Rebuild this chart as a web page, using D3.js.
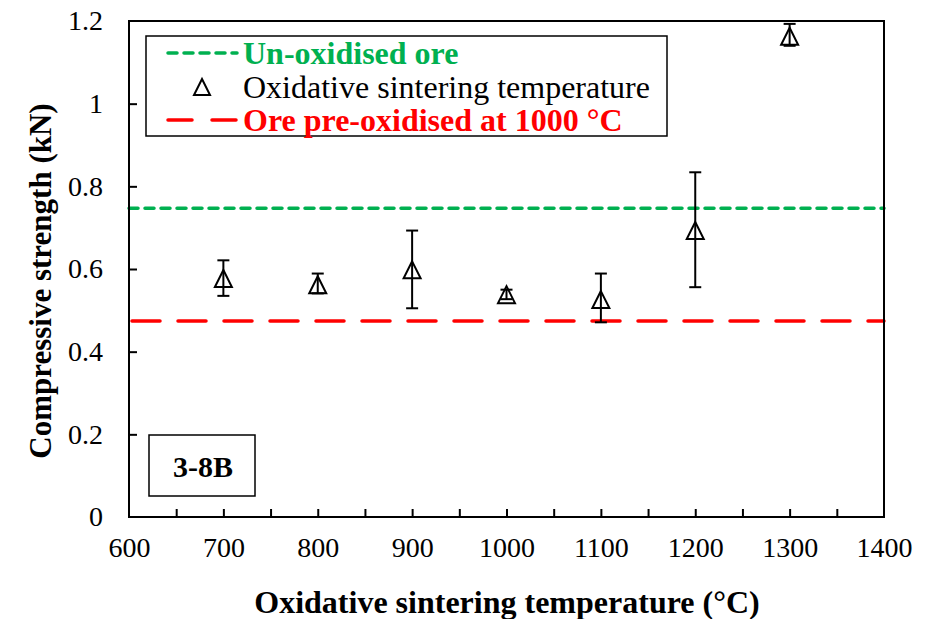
<!DOCTYPE html>
<html>
<head>
<meta charset="utf-8">
<script src="https://cdn.jsdelivr.net/npm/d3@7"></script>
<style>
  body { margin: 0; background: #fff; }
</style>
</head>
<body>
<svg id="chart" width="932" height="619"></svg>
<script>
// values
const temps = [700, 800, 900, 1000, 1100, 1200, 1300]
const strength = [0.577, 0.562, 0.598, 0.538, 0.526, 0.693, 1.163]
const errLow = [0.535, 0.541, 0.505, 0.527, 0.471, 0.556, 1.14]
const errHigh = [0.621, 0.589, 0.693, 0.55, 0.589, 0.834, 1.193]
const unoxidised = 0.747
const preoxidised = 0.474
const xTicks = [600, 700, 800, 900, 1000, 1100, 1200, 1300, 1400]
const xMinor = [650, 750, 850, 950, 1050, 1150, 1250, 1350]
const yTicks = [0, 0.2, 0.4, 0.6, 0.8, 1, 1.2]
const legendLabels = ['Un-oxidised ore', 'Oxidative sintering temperature', 'Ore pre-oxidised at 1000 °C']

const font = '"Liberation Serif", "Times New Roman", serif'
const green = '#00b050'
const red = '#ff0000'

let svg = d3.select('#chart')
let x = d3.scaleLinear().domain([600, 1400]).range([129, 884])
let y = d3.scaleLinear().domain([0, 1.2]).range([517, 21])

// reference lines
svg.append('line')
  .attr('x1', x(600)).attr('x2', x(1400))
  .attr('y1', y(unoxidised)).attr('y2', y(unoxidised))
  .attr('stroke', green).attr('stroke-width', 3.5)
  .attr('stroke-dasharray', '9 7').attr('stroke-linecap', 'round')

svg.append('line')
  .attr('x1', x(600) + 3).attr('x2', x(1400))
  .attr('y1', y(preoxidised)).attr('y2', y(preoxidised))
  .attr('stroke', red).attr('stroke-width', 3.5)
  .attr('stroke-dasharray', '28 18').attr('stroke-linecap', 'round')

// axes, ticks inside
let xAxis = d3.axisBottom(x).tickValues(xTicks).tickSizeInner(-8).tickSizeOuter(0).tickPadding(20)
  .tickFormat(d3.format('d'))
let gx = svg.append('g').attr('transform', `translate(0,${y(0)})`).call(xAxis)
gx.selectAll('.tick').filter(d => d === 600 || d === 1400).select('line').remove()
gx.selectAll('.tick text').attr('dy', '0.71em')

svg.append('g').attr('transform', `translate(0,${y(0)})`)
  .call(d3.axisBottom(x).tickValues(xMinor).tickSizeInner(-8).tickSizeOuter(0).tickFormat(''))

let yAxis = d3.axisLeft(y).tickValues(yTicks).tickSizeInner(-8).tickSizeOuter(0).tickPadding(26)
  .tickFormat(d => d === 0 || d === 1 ? d3.format('d')(d) : d3.format('.1f')(d))
let gy = svg.append('g').attr('transform', `translate(${x(600)},0)`).call(yAxis)
gy.selectAll('.tick').filter(d => d === 0 || d === 1.2).select('line').remove()

svg.selectAll('.domain').remove()
svg.selectAll('.tick line').attr('stroke', '#000').attr('stroke-width', 2)
svg.selectAll('.tick text')
  .attr('font-size', 28).attr('fill', '#000')
  .style('font-family', font)

// plot frame
svg.append('rect')
  .attr('x', x(600)).attr('y', y(1.2))
  .attr('width', x(1400) - x(600)).attr('height', y(0) - y(1.2))
  .attr('fill', 'none').attr('stroke', '#000').attr('stroke-width', 2)

// error bars
let pts = temps.map((t, i) => ({ t, v: strength[i], lo: errLow[i], hi: errHigh[i] }))
let eb = svg.append('g').attr('stroke', '#000').attr('stroke-width', 2)
eb.selectAll('.stem').data(pts).enter().append('line')
  .attr('x1', d => x(d.t)).attr('x2', d => x(d.t))
  .attr('y1', d => y(d.lo)).attr('y2', d => y(d.hi))
eb.selectAll('.capHi').data(pts).enter().append('line')
  .attr('x1', d => x(d.t) - 6).attr('x2', d => x(d.t) + 6)
  .attr('y1', d => y(d.hi)).attr('y2', d => y(d.hi))
eb.selectAll('.capLo').data(pts).enter().append('line')
  .attr('x1', d => x(d.t) - 6).attr('x2', d => x(d.t) + 6)
  .attr('y1', d => y(d.lo)).attr('y2', d => y(d.lo))

// open triangles, centred on bounding box
let tri = (cx, cy, h) => `M${cx},${cy - h / 2}L${cx + h / 2},${cy + h / 2}L${cx - h / 2},${cy + h / 2}Z`
svg.append('g').selectAll('path').data(pts).enter().append('path')
  .attr('d', d => tri(x(d.t), y(d.v), 17))
  .attr('fill', 'none').attr('stroke', '#000').attr('stroke-width', 2)

// legend
let lg = svg.append('g')
lg.append('rect').attr('x', 146).attr('y', 36).attr('width', 521).attr('height', 100)
  .attr('fill', '#fff').attr('stroke', '#000').attr('stroke-width', 1.5)
let rowY = [53, 87, 120]
lg.append('line').attr('x1', 168).attr('x2', 237).attr('y1', rowY[0]).attr('y2', rowY[0])
  .attr('stroke', green).attr('stroke-width', 3.5).attr('stroke-dasharray', '9 7').attr('stroke-linecap', 'round')
lg.append('path').attr('d', tri(202, rowY[1], 16))
  .attr('fill', 'none').attr('stroke', '#000').attr('stroke-width', 2)
lg.append('line').attr('x1', 168).attr('x2', 237).attr('y1', rowY[2]).attr('y2', rowY[2])
  .attr('stroke', red).attr('stroke-width', 3.5).attr('stroke-dasharray', '24 20').attr('stroke-linecap', 'round')
lg.selectAll('text').data(legendLabels).enter().append('text')
  .attr('x', 243).attr('y', (d, i) => rowY[i])
  .attr('dy', '0.35em').attr('font-size', 32)
  .style('font-family', font)
  .attr('font-weight', (d, i) => i === 1 ? 'normal' : 'bold')
  .attr('fill', (d, i) => [green, '#000', red][i])
  .text(d => d)

// panel label
svg.append('rect').attr('x', 149).attr('y', 435).attr('width', 106).attr('height', 61)
  .attr('fill', '#fff').attr('stroke', '#000').attr('stroke-width', 1.5)
svg.append('text').attr('x', 203).attr('y', 466).attr('dy', '0.35em')
  .attr('text-anchor', 'middle').attr('font-size', 30).attr('font-weight', 'bold')
  .style('font-family', font)
  .text('3-8B')

// axis titles
svg.append('text').attr('x', 507).attr('y', 602).attr('dy', '0.35em')
  .attr('text-anchor', 'middle').attr('font-size', 32).attr('font-weight', 'bold')
  .style('font-family', font)
  .text('Oxidative sintering temperature (°C)')
svg.append('text').attr('transform', `translate(40,${(y(0) + y(1.2)) / 2 + 12}) rotate(-90)`)
  .attr('dy', '0.35em').attr('text-anchor', 'middle').attr('font-size', 31).attr('font-weight', 'bold')
  .style('font-family', font)
  .text('Compressive strength (kN)')
</script>
</body>
</html>
